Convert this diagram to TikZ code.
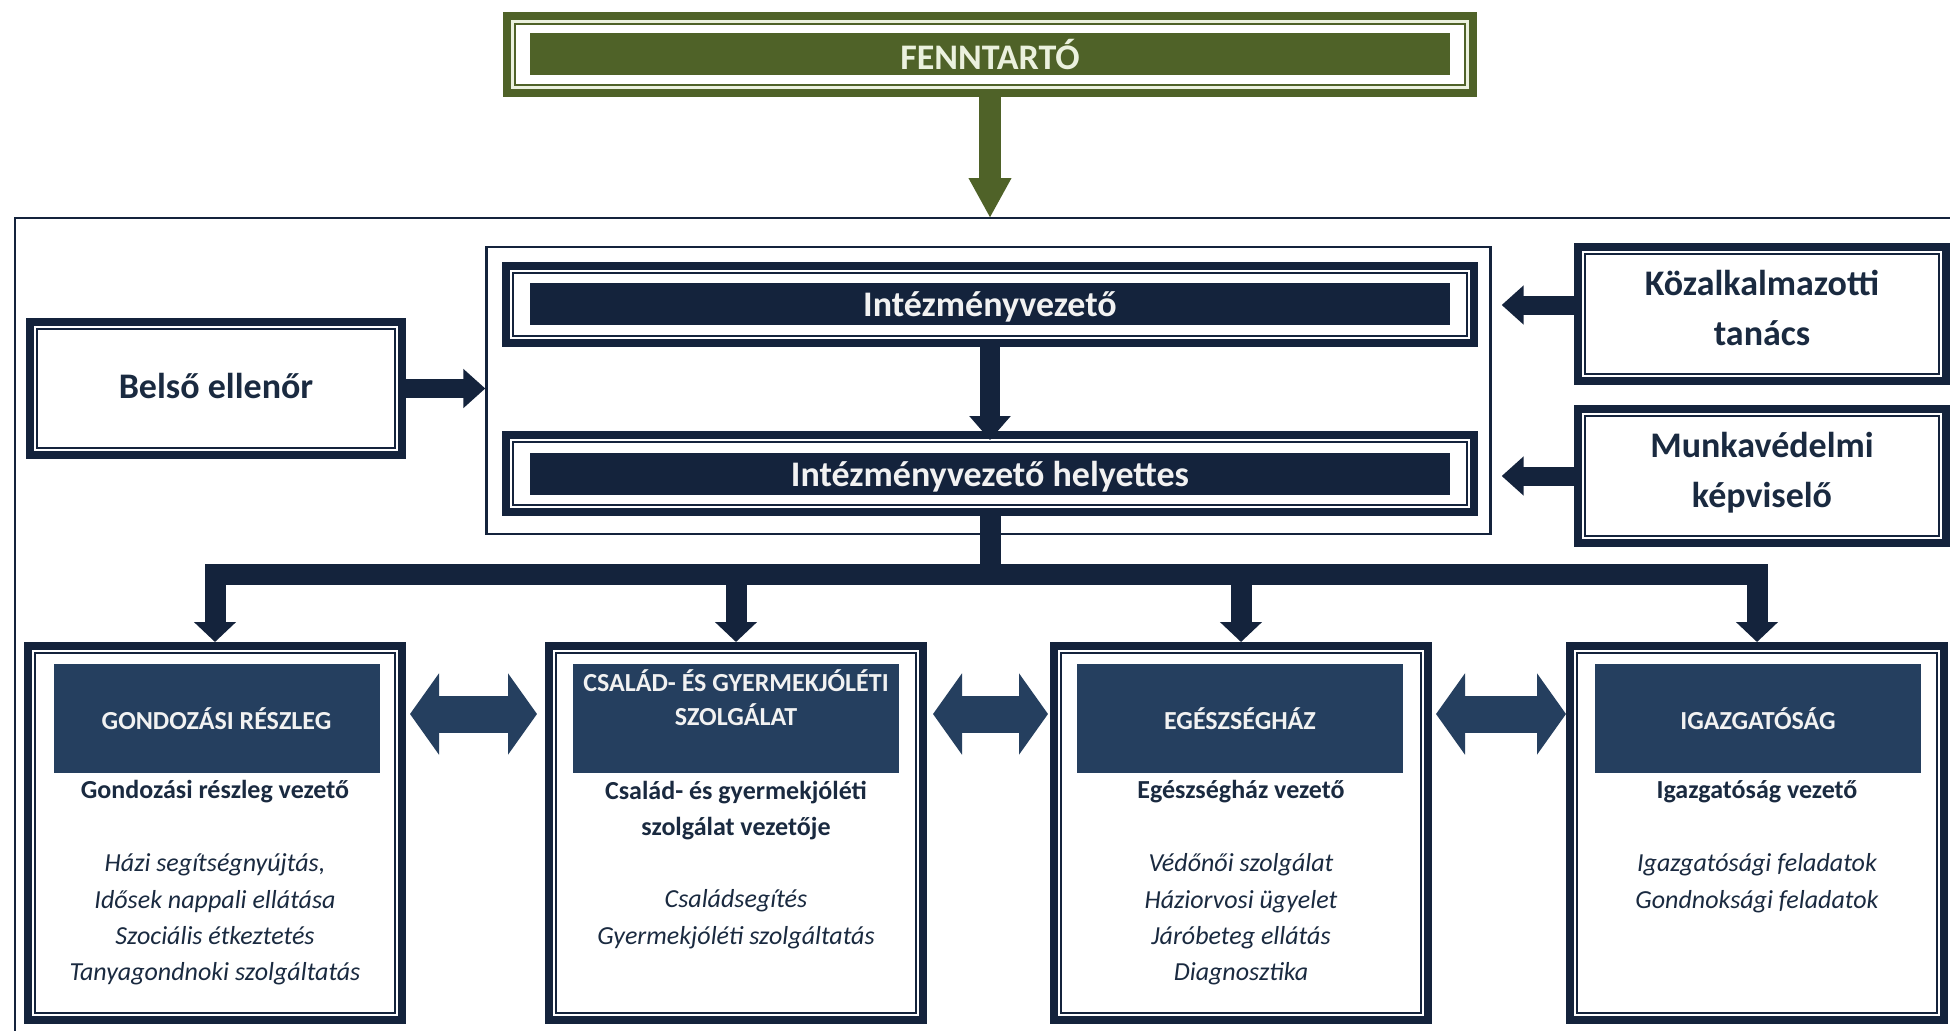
\documentclass[tikz,border=0pt]{standalone}
\usepackage{fontspec}
\setmainfont{Carlito}
\usetikzlibrary{arrows.meta}
\definecolor{navy}{HTML}{14233C}
\definecolor{hdr}{HTML}{253F5F}
\definecolor{olive}{HTML}{4F6228}
\definecolor{cream}{HTML}{EBF1DE}
\definecolor{txt}{HTML}{1A2A40}
\definecolor{ltxt}{HTML}{F2F2F2}
\tikzset{
  frame/.style={draw=navy, line width=4pt, fill=white, inner sep=0pt,
    path picture={\draw[navy, line width=1pt]
      ([shift={(3.5pt,-3.5pt)}]path picture bounding box.north west) rectangle
      ([shift={(-3.5pt,3.5pt)}]path picture bounding box.south east);}},
  gframe/.style={draw=olive, line width=4pt, fill=white, inner sep=0pt,
    path picture={\draw[cream, line width=1.6pt]
      ([shift={(2.6pt,-2.6pt)}]path picture bounding box.north west) rectangle
      ([shift={(-2.6pt,2.6pt)}]path picture bounding box.south east);
      \draw[olive, line width=1pt]
      ([shift={(3.8pt,-3.8pt)}]path picture bounding box.north west) rectangle
      ([shift={(-3.8pt,3.8pt)}]path picture bounding box.south east);}},
  bigfont/.style={font=\fontsize{18pt}{25pt}\selectfont\bfseries},
  bar/.style={fill=navy, text=ltxt, bigfont, minimum width=460pt, minimum height=21pt, inner sep=0pt, text depth=0pt},
  gbar/.style={fill=olive, text=cream, bigfont, minimum width=460pt, minimum height=21pt, inner sep=0pt},
  hdrbar/.style={fill=hdr, text=ltxt, font=\fontsize{13pt}{17pt}\selectfont\bfseries, minimum width=163pt, minimum height=54.5pt, inner sep=0pt, align=center},
  hdrtxt/.style={text=ltxt, font=\fontsize{13pt}{17pt}\selectfont\bfseries, inner sep=0pt, align=center},
  bigtxt/.style={text=txt, bigfont, align=center, inner sep=0pt},
  mgr/.style={text=txt, font=\fontsize{13pt}{18pt}\selectfont\bfseries, inner sep=0pt, align=center},
  tasks/.style={text=txt, font=\fontsize{13pt}{18.2pt}\selectfont\itshape, inner sep=0pt, align=center},
  garrow/.style={draw=olive, line width=11pt, -{Triangle[width=20pt,length=20pt]}},
  varrow/.style={draw=navy, line width=10pt, -{Triangle[width=20pt,length=12pt]}},
  busline/.style={draw=navy, line width=10.5pt},
  harrow/.style={draw=navy, line width=9.5pt, -{Triangle[width=19pt,length=11pt]}},
  darrow/.style={draw=hdr, line width=18.5pt, {Triangle[width=40pt,length=14.5pt]}-{Triangle[width=40pt,length=14.5pt]}},
}
\begin{document}
\begin{tikzpicture}[x=0.5pt,y=-0.5pt]
\useasboundingbox (0,0) rectangle (1950,1030);
\fill[white] (0,0) rectangle (1950,1030);

% outer container
\draw[navy, line width=1.25pt] (1960,218) -- (15,218) -- (15,1040);

% Fenntarto
\node[gframe, minimum width=483pt, minimum height=38.5pt] (fenn) at (990,54.5) {};
\node[gbar] (fenntxt) at (990,54) {FENNTARTÓ};
\coordinate (ctop) at (990,218);
\draw[garrow] (fenn.south) -- (ctop);

% leadership group
\node[draw=navy, line width=1.2pt, minimum width=502pt, minimum height=143.3pt, inner sep=0pt] (grp) at (988.5,390.5) {};
\node[frame, minimum width=484pt, minimum height=38.5pt] (iv) at (990,304.5) {};
\node[bar] (ivtxt) at (990,304) {Intézményvezető};
\node[frame, minimum width=484pt, minimum height=38.5pt] (ivh) at (990,473.5) {};
\node[bar] (ivhtxt) at (990,474) {Intézményvezető helyettes};
\draw[varrow, shorten >=-4.5pt] (iv.south) -- (ivh.north);

% side boxes
\node[frame, minimum width=186pt, minimum height=66.5pt] (belso) at (216,388.5) {};
\node[bigtxt] (belsotxt) at (216,386) {Belső ellenőr};
\draw[harrow] (belso.east) -- (belso.east -| grp.west);

\node[frame, minimum width=184pt, minimum height=67pt] (koz) at (1762,314) {};
\node[bigtxt] (koztxt) at (1762,308) {Közalkalmazotti\\tanács};
\node[frame, minimum width=184pt, minimum height=67pt] (munk) at (1762,476) {};
\node[bigtxt] (munktxt) at (1762,473) {Munkavédelmi\\képviselő};
\draw[harrow, shorten >=5pt] ([yshift=4.5pt]koz.west) -- ([yshift=4.5pt]koz.west -| grp.east);
\draw[harrow, shorten >=5pt] (munk.west) -- (munk.west -| grp.east);

% bottom boxes
\node[frame, minimum width=187pt, minimum height=187pt] (gond) at (215,833) {};
\node[frame, minimum width=187pt, minimum height=187pt] (cfam) at (736,833) {};
\node[frame, minimum width=187pt, minimum height=187pt] (egesz) at (1241,833) {};
\node[frame, minimum width=187pt, minimum height=187pt] (igaz) at (1757,833) {};

% bus
\coordinate (bus) at (990,574);
\draw[busline] (ivh.south) -- (ivh.south |- bus);
\draw[busline, line cap=rect] (gond.north |- bus) -- (igaz.north |- bus);
\draw[varrow, line width=10.5pt, -{Triangle[width=20.5pt,length=10pt]}] (gond.north |- bus) -- (gond.north);
\draw[varrow, line width=10.5pt, -{Triangle[width=20.5pt,length=10pt]}] (cfam.north |- bus) -- (cfam.north);
\draw[varrow, line width=10.5pt, -{Triangle[width=20.5pt,length=10pt]}] (egesz.north |- bus) -- (egesz.north);
\draw[varrow, line width=10.5pt, -{Triangle[width=20.5pt,length=10pt]}] (igaz.north |- bus) -- (igaz.north);

% double arrows
\coordinate (hy) at (0,714);
\draw[darrow, shorten <=2pt, shorten >=4pt] (gond.east |- hy) -- (cfam.west |- hy);
\draw[darrow, shorten <=3pt, shorten >=1pt] (cfam.east |- hy) -- (egesz.west |- hy);
\draw[darrow, shorten <=2pt, shorten >=0pt] (egesz.east |- hy) -- (igaz.west |- hy);

% headers
\node[hdrbar] (gondh) at (216.5,718.5) {GONDOZÁSI RÉSZLEG};
\node[hdrbar] (cfamh) at (736,718.5) {};
\node[hdrtxt] (cfamht) at (736,698) {CSALÁD- ÉS GYERMEKJÓLÉTI\\SZOLGÁLAT};
\node[hdrbar] (egeszh) at (1240,718.5) {EGÉSZSÉGHÁZ};
\node[hdrbar] (igazh) at (1758,718.5) {IGAZGATÓSÁG};

% managers
\node[mgr] (gondm) at (215,792) {Gondozási részleg vezető};
\node[mgr] (cfamm) at (736,811) {Család- és gyermekjóléti\\szolgálat vezetője};
\node[mgr] (egeszm) at (1241,792) {Egészségház vezető};
\node[mgr] (igazm) at (1757,792) {Igazgatóság vezető};

% tasks
\node[tasks] (gondt) at (215,919.5) {Házi segítségnyújtás,\\Idősek nappali ellátása\\Szociális étkeztetés\\Tanyagondnoki szolgáltatás};
\node[tasks] (cfamt) at (736,919) {Családsegítés\\Gyermekjóléti szolgáltatás};
\node[tasks] (egeszt) at (1241,919.5) {Védőnői szolgálat\\Háziorvosi ügyelet\\Járóbeteg ellátás\\Diagnosztika};
\node[tasks] (igazt) at (1757,883) {Igazgatósági feladatok\\Gondnoksági feladatok};
\end{tikzpicture}
\end{document}
